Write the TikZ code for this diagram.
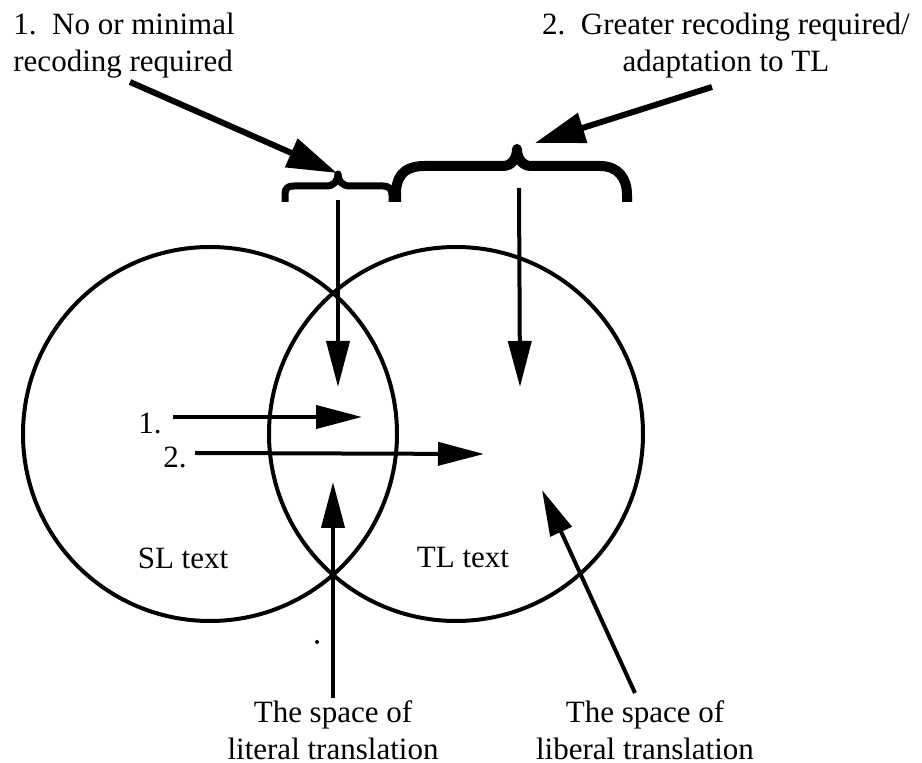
\documentclass[tikz,border=0pt]{standalone}
\usepackage{fontspec}
\setmainfont{Liberation Serif}
\usetikzlibrary{arrows.meta}

\tikzset{
  arr/.style={line width=2pt,-{Triangle[length=23pt,width=11.5pt]}},
  bigarr/.style={line width=3pt,-{Triangle[length=25pt,width=15pt]}},
  lbl/.style={inner sep=0pt,font=\fontsize{15.5}{18.5}\selectfont},
  brace/.style={line join=round}
}

\begin{document}
\begin{tikzpicture}[x=0.5pt,y=-0.5pt]
    \useasboundingbox (0,0) rectangle (922,763);
    % the two texts
    \draw[line width=2pt] (210,434) circle[radius=187];
    \draw[line width=2pt] (456,434) circle[radius=187];
    \node[lbl] (sl) at (183,558) {SL text};
    \node[lbl] (tl) at (463,558) {TL text};
    % labels at the top
    \node[lbl,anchor=north west,align=left] (minimal) at (13,13) {1.\ \ No or minimal\\recoding required};
    \node[lbl,anchor=north,align=center] (greater) at (726,13) {2.\ \ Greater recoding required/\\adaptation to TL};
    % braces
    \draw[brace,line width=3.5pt] (285,202) -- (285,194) .. controls (285,188) and (288,186) .. (294,186)
	-- (326,186) .. controls (334,186) and (338,181) .. (338,174)
	.. controls (338,181) and (342,186) .. (350,186)
	-- (383,186) .. controls (389,186) and (392,189) .. (392,195) -- (392,202);
    \draw[brace,line width=5pt] (396,202) -- (396,190) .. controls (398,172) and (408,166) .. (425,166)
	-- (503,166) .. controls (512,166) and (517,158) .. (517,149)
	.. controls (517,158) and (522,166) .. (531,166)
	-- (600,166) .. controls (618,166) and (627,178) .. (627,195) -- (627,202);
    \coordinate (minT) at (130,82);
    \coordinate (minB) at (337,173);
    \coordinate (grT) at (712,87);
    \coordinate (grB) at (535,143);
    \draw[bigarr] (minT) -- (minB);
    \draw[bigarr] (grT) -- (grB);
    \coordinate (smallS) at (338,200);
    \coordinate (smallE) at (338,387);
    \coordinate (bigS) at (519,188);
    \coordinate (bigE) at (520,387);
    \draw[arr] (smallS) -- (smallE);
    \draw[arr] (bigS) -- (bigE);
    % the two kinds of recoding
    \node[lbl] (one) at (150,423) {1.};
    \node[lbl] (two) at (175,457) {2.};
    \coordinate (oneS) at (173,417);
    \coordinate (oneE) at (362,417);
    \coordinate (twoS) at (195,453);
    \coordinate (twoE) at (484,454);
    \draw[arr] (oneS) -- (oneE);
    \draw[arr] (twoS) -- (twoE);
    % labels at the bottom
    \node[lbl,anchor=north,align=center] (literal) at (333,700) {The space of\\literal translation};
    \node[lbl,anchor=north,align=center] (liberal) at (645,700) {The space of\\liberal translation};
    \coordinate (litS) at (333,698);
    \coordinate (litE) at (333,482);
    \coordinate (libS) at (635,693);
    \coordinate (libE) at (542,490);
    \draw[arr] (litS) -- (litE);
    \draw[arr] (libS) -- (libE);
    \fill (317,642) circle[radius=2];
\end{tikzpicture}
\end{document}
